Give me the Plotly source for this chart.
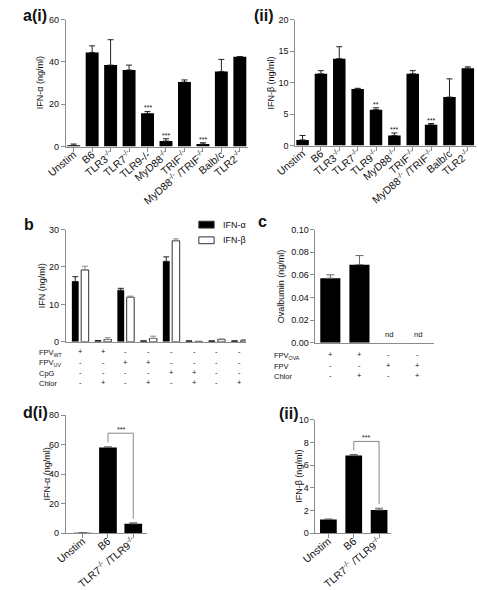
import plotly.graph_objects as go

W, H = 478, 590
FONT = "Liberation Sans, Arial, sans-serif"
AX = "#8c8c8c"
TXT = "#111111"

# ---------------- data ----------------
cats_a1 = ["Unstim", "B6", "TLR3<sup>-/-</sup>", "TLR7<sup>-/-</sup>", "TLR9-/-",
           "MyD88<sup>-/-</sup>", "TRIF<sup>-/-</sup>",
           "MyD88<sup>-/-</sup> /TRIF<sup>-/-</sup>", "Balb/c", "TLR2<sup>-/-</sup>"]
ifna_a = [0.6, 44.5, 38.5, 36.2, 15.7, 2.6, 30.5, 1.2, 35.5, 42.5]
ifna_a_err = [0.6, 3.1, 12.0, 2.3, 0.9, 1.1, 1.0, 0.6, 5.7, 0.0]
stars_a1 = ["", "", "", "", "***", "***", "", "***", "", ""]

cats_a2 = ["Unstim", "B6", "TLR3<sup>-/-</sup>", "TLR7<sup>-/-</sup>", "TLR9<sup>-/-</sup>",
           "MyD88<sup>-/-</sup>", "TRIF<sup>-/-</sup>",
           "MyD88<sup>-/-</sup> /TRIF<sup>-/-</sup>", "Balb/c", "TLR2<sup>-/-</sup>"]
ifnb_a = [0.9, 11.4, 13.8, 9.0, 5.7, 1.6, 11.4, 3.3, 7.7, 12.3]
ifnb_a_err = [0.7, 0.5, 1.9, 0.1, 0.3, 0.4, 0.5, 0.2, 2.9, 0.2]
stars_a2 = ["", "", "", "", "**", "***", "", "***", "", ""]

b_alpha = [16.1, 0.3, 13.8, 0.2, 21.5, 0.2, 0.2, 0.2]
b_alpha_err = [1.3, 0.05, 0.5, 0.05, 1.2, 0.05, 0.05, 0.05]
b_beta = [19.2, 0.6, 11.9, 0.9, 27.0, 0.1, 0.6, 0.3]
b_beta_err = [1.0, 0.5, 0.3, 0.6, 0.5, 0.05, 0.2, 0.3]
b_rows = ["FPV<sub>WT</sub>", "FPV<sub>UV</sub>", "CpG", "Chlor"]
b_table = [["+", "+", "-", "-", "-", "-", "-", "-"],
           ["-", "-", "+", "+", "-", "-", "-", "-"],
           ["-", "-", "-", "-", "+", "+", "-", "-"],
           ["-", "+", "-", "+", "-", "+", "-", "+"]]

c_oval = [0.057, 0.069, None, None]
c_oval_err = [0.003, 0.008, 0, 0]
c_nd = ["", "", "nd", "nd"]
c_rows = ["FPV<sub>OVA</sub>", "FPV", "Chlor"]
c_table = [["+", "+", "-", "-"],
           ["-", "-", "+", "+"],
           ["-", "+", "-", "+"]]

cats_d = ["Unstim", "B6", "TLR7<sup>-/-</sup> /TLR9<sup>-/-</sup>"]
d_alpha = [0.3, 58.0, 6.4]
d_alpha_err = [0.1, 0.5, 0.6]
d_beta = [1.2, 6.85, 2.05]
d_beta_err = [0.05, 0.1, 0.15]
d_bracket = [(1, 2, "***"), (1, 2, "***")]

# ---------------- helpers ----------------
def xd(a, b):
    return [a / W, b / W]

def yd(bottom, top):
    return [1 - bottom / H, 1 - top / H]

fig = go.Figure()

def err(arr, color="#222", width=3):
    return dict(type="data", symmetric=False, array=arr, arrayminus=[0] * len(arr),
                color=color, thickness=1, width=width)

# a(i)
fig.add_trace(go.Bar(x=list(range(len(ifna_a))), y=ifna_a, width=0.7,
                     marker=dict(color="black", line=dict(width=0)),
                     error_y=err(ifna_a_err), xaxis="x", yaxis="y"))
# a(ii)
fig.add_trace(go.Bar(x=list(range(len(ifnb_a))), y=ifnb_a, width=0.68,
                     marker=dict(color="black", line=dict(width=0)),
                     error_y=err(ifnb_a_err), xaxis="x2", yaxis="y2"))
# b
fig.add_trace(go.Bar(x=list(range(len(b_alpha))), y=b_alpha, width=0.3, offset=-0.37,
                     marker=dict(color="black", line=dict(width=0)),
                     error_y=err(b_alpha_err), xaxis="x3", yaxis="y3", name="IFN-α"))
fig.add_trace(go.Bar(x=list(range(len(b_beta))), y=b_beta, width=0.33, offset=0.04,
                     marker=dict(color="white", line=dict(width=1, color="#333")),
                     error_y=err(b_beta_err, "#888"), xaxis="x3", yaxis="y3", name="IFN-β"))
# c
fig.add_trace(go.Bar(x=list(range(len(c_oval))), y=c_oval, width=0.69,
                     marker=dict(color="black", line=dict(width=0)),
                     error_y=err(c_oval_err, "#666", 4), xaxis="x4", yaxis="y4"))
# d(i)
fig.add_trace(go.Bar(x=list(range(len(d_alpha))), y=d_alpha, width=0.7,
                     marker=dict(color="black", line=dict(width=0)),
                     error_y=err(d_alpha_err, "#666", 4), xaxis="x5", yaxis="y5"))
# d(ii)
fig.add_trace(go.Bar(x=list(range(len(d_beta))), y=d_beta, width=0.66,
                     marker=dict(color="black", line=dict(width=0)),
                     error_y=err(d_beta_err, "#666", 4), xaxis="x6", yaxis="y6"))

def xaxis(domain, rng, n, ticktext=None, anchor="y"):
    d = dict(domain=domain, range=rng, showline=True, linecolor=AX, linewidth=1,
             showgrid=False, zeroline=False, anchor=anchor, fixedrange=True)
    if ticktext is not None:
        d.update(tickmode="array", tickvals=list(range(n)), ticktext=ticktext,
                 tickangle=-40, ticks="outside", ticklen=4, tickcolor=AX,
                 ticklabelstandoff=-7,
                 tickfont=dict(size=10.5, color=TXT, family=FONT))
    else:
        d.update(showticklabels=False, ticks="")
    return d

def yaxis(domain, rng, tickvals, anchor, fmt=None):
    d = dict(domain=domain, range=rng, tickmode="array", tickvals=tickvals,
             showline=True, linecolor=AX, linewidth=1, ticks="outside", ticklen=4,
             tickcolor=AX, showgrid=False, zeroline=False, anchor=anchor,
             fixedrange=True, tickfont=dict(size=9, color=TXT, family=FONT))
    if fmt:
        d["tickformat"] = fmt
    return d

fig.update_layout(
    width=W, height=H, margin=dict(l=0, r=0, t=0, b=0),
    paper_bgcolor="white", plot_bgcolor="white",
    font=dict(family=FONT, size=9, color=TXT),
    showlegend=False, barmode="overlay", hovermode=False,
    xaxis=xaxis(xd(47, 237), [-0.42, 9.42], 10, cats_a1, "y"),
    yaxis=yaxis(yd(145, 15), [0, 60], [0, 20, 40, 60], "x"),
    xaxis2=xaxis(xd(287, 476), [-0.39, 9.45], 10, cats_a2, "y2"),
    yaxis2=yaxis(yd(144, 15), [0, 20], [0, 5, 10, 15, 20], "x2"),
    xaxis3=xaxis(xd(47, 235), [-0.63, 7.27], 8, None, "y3"),
    yaxis3=yaxis(yd(345, 230), [0, 30], [0, 10, 20, 30], "x3"),
    xaxis4=xaxis(xd(308, 432), [-0.51, 3.56], 4, None, "y4"),
    yaxis4=yaxis(yd(346, 230), [0, 0.10], [0, 0.02, 0.04, 0.06, 0.08, 0.10], "x4", ".2f"),
    xaxis5=xaxis(xd(47, 132), [-0.66, 2.55], 3, cats_d, "y5"),
    yaxis5=yaxis(yd(541, 420), [0, 80], [0, 20, 40, 60, 80], "x5"),
    xaxis6=xaxis(xd(308, 387), [-0.51, 2.47], 3, cats_d, "y6"),
    yaxis6=yaxis(yd(541, 425), [0, 10], [0, 2, 4, 6, 8, 10], "x6"),
)

ann = []
def add_text(x, y, text, size=9, xref="paper", yref="paper", xanchor="center",
             yanchor="middle", angle=0, bold=False, yshift=0, color=TXT):
    if bold:
        text = "<b>" + text + "</b>"
    ann.append(dict(x=x, y=y, text=text, xref=xref, yref=yref, showarrow=False,
                    xanchor=xanchor, yanchor=yanchor, textangle=angle, yshift=yshift,
                    font=dict(size=size, family=FONT, color=color)))

# panel labels
add_text(0 / W, 1 - 11 / H, "a(i)", size=16, xanchor="left", bold=True)
add_text(242 / W, 1 - 11 / H, "(ii)", size=16, xanchor="left", bold=True)
add_text(1 / W, 1 - 225 / H, "b", size=16, xanchor="left", bold=True)
add_text(246 / W, 1 - 222 / H, "c", size=16, xanchor="left", bold=True)
add_text(0 / W, 1 - 417 / H, "d(i)", size=16, xanchor="left", bold=True)
add_text(268 / W, 1 - 418 / H, "(ii)", size=16, xanchor="left", bold=True)

# axis titles
add_text(20 / W, 1 - 80 / H, "IFN-α (ng/ml)", size=9, angle=-90)
add_text(262 / W, 1 - 80 / H, "IFN-β (ng/ml)", size=9, angle=-90)
add_text(22 / W, 1 - 288 / H, "IFN (ng/ml)", size=9, angle=-90)
add_text(272 / W, 1 - 288 / H, "Ovalbumin (ng/ml)", size=9, angle=-90)
add_text(27 / W, 1 - 480 / H, "IFN-α (ng/ml)", size=9, angle=-90)
add_text(290 / W, 1 - 483 / H, "IFN-β (ng/ml)", size=9, angle=-90)

# significance stars panel a
for i, s in enumerate(stars_a1):
    if s:
        add_text(i, ifna_a[i] + ifna_a_err[i], s, size=7, xref="x", yref="y",
                 yanchor="bottom", yshift=-2)
for i, s in enumerate(stars_a2):
    if s:
        add_text(i, ifnb_a[i] + ifnb_a_err[i], s, size=7, xref="x2", yref="y2",
                 yanchor="bottom", yshift=-2)

# panel b condition table
b_row_y = [355, 366, 376, 387]
for r, (lab, row) in enumerate(zip(b_rows, b_table)):
    add_text(17 / W, 1 - b_row_y[r] / H, lab, size=7.5, xanchor="left", yshift=-1)
    for i, m in enumerate(row):
        add_text(i, 1 - b_row_y[r] / H, m, size=7.5, xref="x3", yref="paper")

# panel c condition table and nd
c_row_y = [358, 369, 380]
for r, (lab, row) in enumerate(zip(c_rows, c_table)):
    add_text(263 / W, 1 - c_row_y[r] / H, lab, size=7.5, xanchor="left", yshift=-1)
    for i, m in enumerate(row):
        add_text(i, 1 - c_row_y[r] / H, m, size=7.5, xref="x4", yref="paper")
for i, s in enumerate(c_nd):
    if s:
        add_text(i, 0, s, size=7.5, xref="x4", yref="y4", yanchor="bottom", yshift=2)

# legend for panel b (drawn swatches)
shapes = []
leg = [("IFN-α", "black", 225), ("IFN-β", "white", 241)]
for name, col, yy in leg:
    shapes.append(dict(type="rect", xref="paper", yref="paper",
                       x0=186 / W, x1=202 / W, y0=1 - (yy + 3.5) / H, y1=1 - (yy - 3.5) / H,
                       fillcolor=col, line=dict(color="#333", width=1)))
    add_text(209 / W, 1 - yy / H, name, size=9, xanchor="left")

# brackets panel d
for (a, b_, s), vals, errs, xr, yr, rng in [
        (d_bracket[0], d_alpha, d_alpha_err, "x5", "y5", 80),
        (d_bracket[1], d_beta, d_beta_err, "x6", "y6", 10)]:
    top = max(vals[a] + errs[a], vals[b_] + errs[b_]) + rng * 0.115
    ya = vals[a] + errs[a] + rng * 0.035
    yb = vals[b_] + errs[b_] + rng * 0.035
    shapes.append(dict(type="path", xref=xr, yref=yr,
                       path=f"M {a},{ya} L {a},{top} L {b_},{top} L {b_},{yb}",
                       line=dict(color="#888", width=1)))
    add_text((a + b_) / 2, top, s, size=7, xref=xr, yref=yr, yanchor="bottom", yshift=-2)

fig.update_layout(annotations=ann, shapes=shapes)
fig.write_html("out.html", config={"displayModeBar": False, "staticPlot": True},
               post_script="document.body.style.margin='0px';document.body.style.padding='0px';")
